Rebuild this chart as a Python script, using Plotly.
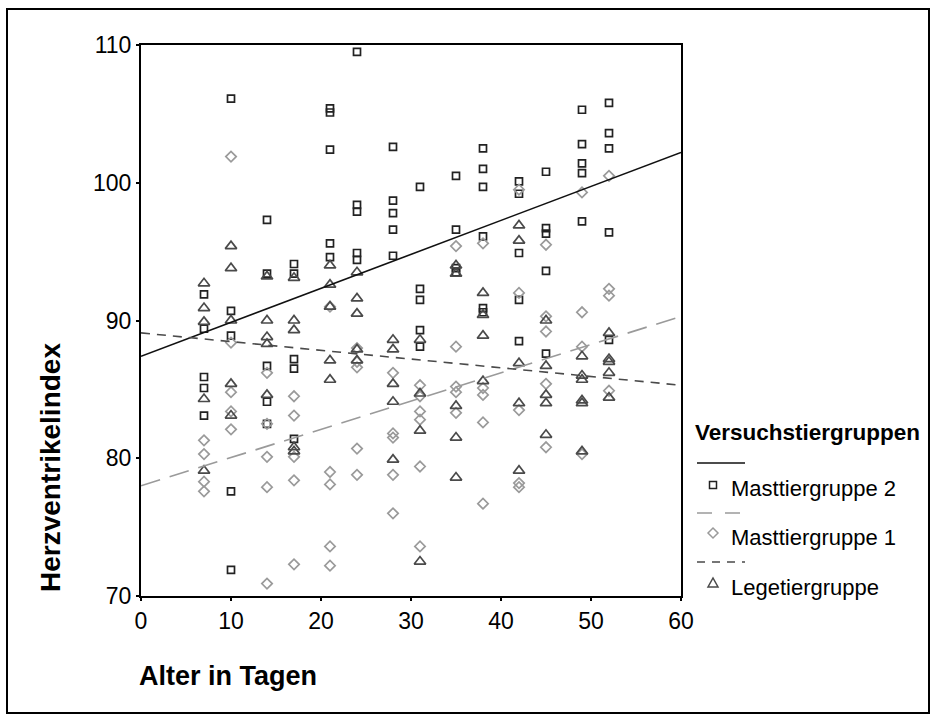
import plotly.graph_objects as go

# ---------------- data ----------------
mast2_days = [7]*5 + [10]*5 + [14]*5 + [17]*5 + [21]*5 + [24]*5 + [28]*5 + [31]*5 + [35]*4 + [38]*6 + [42]*5 + [45]*5 + [49]*5 + [52]*5
mast2_vals = [91.9, 89.4, 85.9, 85.1, 83.1,
              106.1, 90.7, 88.9, 77.6, 71.9,
              97.3, 93.4, 86.7, 84.1, 82.5,
              94.1, 93.4, 87.2, 86.5, 81.4,
              105.4, 105.1, 102.4, 95.6, 94.6,
              109.5, 98.4, 97.9, 94.9, 94.4,
              102.6, 98.7, 97.8, 96.6, 94.7,
              99.7, 92.3, 91.5, 89.3, 88.1,
              100.5, 96.6, 93.8, 93.5,
              102.5, 101.0, 99.7, 96.1, 90.9, 90.6,
              100.1, 99.2, 94.9, 91.5, 88.5,
              100.8, 96.7, 96.3, 93.6, 87.6,
              105.3, 102.8, 101.4, 100.7, 97.2,
              105.8, 103.6, 102.5, 96.4, 88.6]

mast1_days = [7]*4 + [10]*5 + [14]*5 + [17]*5 + [21]*5 + [24]*5 + [28]*5 + [31]*6 + [35]*5 + [38]*5 + [42]*5 + [45]*5 + [49]*4 + [52]*4
mast1_vals = [81.3, 80.3, 78.3, 77.6,
              101.9, 88.4, 84.8, 83.4, 82.1,
              86.2, 82.5, 80.1, 77.9, 70.9,
              84.5, 83.1, 80.1, 78.4, 72.3,
              91.0, 79.0, 78.1, 73.6, 72.2,
              88.0, 87.0, 86.6, 80.7, 78.8,
              86.2, 81.8, 81.5, 78.8, 76.0,
              85.3, 84.5, 83.4, 82.8, 79.4, 73.6,
              95.4, 88.1, 85.2, 84.8, 83.3,
              95.6, 85.1, 84.6, 82.6, 76.7,
              99.5, 92.0, 83.5, 78.2, 77.9,
              95.5, 90.3, 89.2, 85.4, 80.8,
              99.3, 90.6, 88.1, 80.3,
              100.5, 92.3, 91.8, 84.9]

lege_days = [7]*5 + [10]*5 + [14]*5 + [17]*5 + [21]*5 + [24]*5 + [28]*5 + [31]*4 + [35]*5 + [38]*4 + [42]*5 + [45]*5 + [49]*6 + [52]*5
lege_vals = [92.7, 90.9, 89.9, 84.3, 79.1,
             95.4, 93.8, 90.0, 85.4, 83.1,
             93.2, 90.0, 88.8, 88.3, 84.6,
             93.1, 90.0, 89.3, 80.8, 80.5,
             94.0, 92.6, 91.0, 87.1, 85.7,
             93.5, 91.6, 90.5, 87.9, 87.1,
             88.6, 87.9, 85.4, 84.1, 79.9,
             88.6, 84.7, 82.0, 72.5,
             94.0, 93.4, 83.8, 81.5, 78.6,
             92.0, 90.4, 88.9, 85.6,
             96.9, 95.8, 86.9, 84.0, 79.1,
             90.0, 86.7, 84.6, 84.0, 81.7,
             87.4, 86.0, 85.7, 84.2, 84.0, 80.5,
             89.1, 87.2, 87.0, 86.2, 84.4]

# regression lines (end points)
fit_x = [0, 60]
mast2_fit = [87.4, 102.2]
mast1_fit = [78.0, 90.3]
lege_fit = [89.1, 85.3]

group_names = ["Masttiergruppe 2", "Masttiergruppe 1", "Legetiergruppe"]
x_ticks = [0, 10, 20, 30, 40, 50, 60]
y_ticks = [70, 80, 90, 100, 110]

# ---------------- figure ----------------
W, H = 932, 717
L, R, T, B = 141, 251, 45, 121
PW, PH = W - L - R, H - T - B

def px(x):
    return (x - L) / PW

def py(y):
    return (H - B - y) / PH

FONT = "Liberation Sans, Arial, sans-serif"
C_SQ, C_DI, C_TR = "#222222", "#9a9a9a", "#4a4a4a"

fig = go.Figure()
fig.add_trace(go.Scatter(x=mast2_days, y=mast2_vals, mode="markers", name=group_names[0],
                         marker=dict(symbol="square-open", size=7, color=C_SQ, line=dict(width=1.7, color=C_SQ))))
fig.add_trace(go.Scatter(x=mast1_days, y=mast1_vals, mode="markers", name=group_names[1],
                         marker=dict(symbol="diamond-open", size=8, color=C_DI, line=dict(width=1.7, color=C_DI))))
fig.add_trace(go.Scatter(x=lege_days, y=lege_vals, mode="markers", name=group_names[2],
                         marker=dict(symbol="triangle-up-open", size=10, color=C_TR, line=dict(width=1.7, color=C_TR))))
fig.add_trace(go.Scatter(x=fit_x, y=mast2_fit, mode="lines", line=dict(color="#111111", width=1.6)))
fig.add_trace(go.Scatter(x=fit_x, y=mast1_fit, mode="lines", line=dict(color=C_DI, width=1.6, dash="20px,10px")))
fig.add_trace(go.Scatter(x=fit_x, y=lege_fit, mode="lines", line=dict(color=C_TR, width=1.6, dash="9px,7px")))

shapes = []
# outer frame
shapes.append(dict(type="rect", xref="paper", yref="paper", x0=px(7), x1=px(929), y0=py(713), y1=py(9),
                   line=dict(color="black", width=2), layer="below"))
# legend samples
shapes.append(dict(type="line", xref="paper", yref="paper", x0=px(697), x1=px(745), y0=py(463), y1=py(463),
                   line=dict(color="#111111", width=1.6)))
shapes.append(dict(type="rect", xref="paper", yref="paper", x0=px(709.5), x1=px(716.5), y0=py(488.5), y1=py(481.5),
                   line=dict(color=C_SQ, width=1.5)))
shapes.append(dict(type="line", xref="paper", yref="paper", x0=px(697), x1=px(745), y0=py(513), y1=py(513),
                   line=dict(color=C_DI, width=1.6, dash="15px,13px")))
# diamond
cx, cy, r = 713, 533, 5
shapes.append(dict(type="path", xref="paper", yref="paper",
                   path=f"M {px(cx)},{py(cy-r)} L {px(cx+r)},{py(cy)} L {px(cx)},{py(cy+r)} L {px(cx-r)},{py(cy)} Z",
                   line=dict(color=C_DI, width=1.5)))
shapes.append(dict(type="line", xref="paper", yref="paper", x0=px(697), x1=px(745), y0=py(562), y1=py(562),
                   line=dict(color=C_TR, width=1.6, dash="8px,7px")))
# triangle
cx, cy = 713, 583
shapes.append(dict(type="path", xref="paper", yref="paper",
                   path=f"M {px(cx-5)},{py(cy+4)} L {px(cx+5)},{py(cy+4)} L {px(cx)},{py(cy-5)} Z",
                   line=dict(color=C_TR, width=1.5)))

annotations = [
    dict(text="<b>Herzventrikelindex</b>", x=px(50), y=py(468), xref="paper", yref="paper",
         textangle=-90, showarrow=False, font=dict(size=28, color="black", family=FONT),
         xanchor="center", yanchor="middle"),
    dict(text="<b>Alter in Tagen</b>", x=px(137), y=py(676), xref="paper", yref="paper",
         showarrow=False, font=dict(size=27, color="black", family=FONT),
         xanchor="left", yanchor="middle"),
    dict(text="<b>Versuchstiergruppen</b>", x=px(693), y=py(432), xref="paper", yref="paper",
         showarrow=False, font=dict(size=22.5, color="black", family=FONT),
         xanchor="left", yanchor="middle"),
]
for name, yy in zip(group_names, [488, 537, 587]):
    annotations.append(dict(text=name, x=px(729), y=py(yy), xref="paper", yref="paper",
                            showarrow=False, font=dict(size=22, color="black", family=FONT),
                            xanchor="left", yanchor="middle"))

fig.update_layout(
    width=W, height=H,
    margin=dict(l=L, r=R, t=T, b=B, pad=0),
    paper_bgcolor="white", plot_bgcolor="white",
    showlegend=False,
    font=dict(family=FONT, size=22, color="black"),
    shapes=shapes, annotations=annotations,
    xaxis=dict(range=[0, 60], tickvals=x_ticks, ticktext=[str(v) for v in x_ticks],
               showgrid=False, zeroline=False, showline=True, mirror=True,
               linecolor="black", linewidth=2, ticks="outside", ticklen=3, tickwidth=2,
               tickcolor="black", tickfont=dict(size=23)),
    yaxis=dict(range=[70, 110], tickvals=y_ticks, ticktext=[str(v) for v in y_ticks],
               showgrid=False, zeroline=False, showline=True, mirror=True,
               linecolor="black", linewidth=2, ticks="outside", ticklen=3, tickwidth=2,
               tickcolor="black", tickfont=dict(size=23)),
)

fig.write_html("out.html", config={"displayModeBar": False, "staticPlot": True},
               post_script="document.body.style.margin='0px';document.body.style.overflow='hidden';")
